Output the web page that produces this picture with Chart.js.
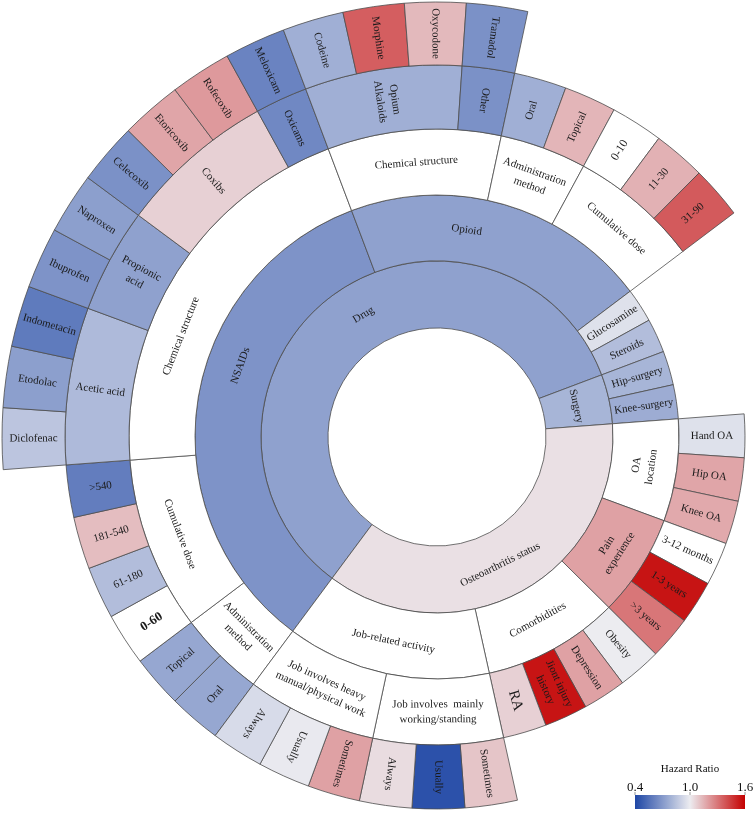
<!DOCTYPE html>
<html>
<head>
<meta charset="utf-8">
<script src="https://cdn.jsdelivr.net/npm/chart.js@4.4.1/dist/chart.umd.min.js"></script>
<style>
  html, body { margin: 0; padding: 0; background: #fff; overflow: hidden; width: 755px; height: 813px; }
  #wrap { position: absolute; left: 0; top: 0; width: 755px; height: 813px; overflow: hidden; }
  #sun { position: absolute; left: 0; top: 0; }
</style>
</head>
<body>
<div id="wrap"><canvas id="sun" width="874" height="874"></canvas></div>
<script>
// ── DATA ─────────────────────────────────────────────────────────────────────
// Each ring is listed clockwise from the Drug / Job-related boundary.
// Spans are in leaf units (every leaf gets the same angle).
// label null = empty gap, hazard ratio null = white (reference / grouping node).
const ring1Labels = ['Drug', 'Surgery', 'Osteoarthritis status'];
const ring1Spans  = [26, 2, 16];
const ring1HR     = [0.73, 0.80, 1.03];

const ring2Labels = ['NSAIDs', 'Opioid', 'Glucosamine', 'Steroids', 'Hip-surgery', 'Knee-surgery',
                     ['OA', 'location'], ['Pain', 'experience'], 'Comorbidities', 'Job-related activity'];
const ring2Spans  = [15, 9, 1, 1, 1, 1, 3, 3, 4, 6];
const ring2HR     = [0.68, 0.73, 0.96, 0.83, 0.80, 0.77, null, 1.19, null, null];

const ring3Labels = [['Administration', 'method'], 'Cumulative dose', 'Chemical structure',
                     'Chemical structure', ['Administration', 'method'], 'Cumulative dose',
                     null,
                     'Hand OA', 'Hip OA', 'Knee OA',
                     '3-12 months', '1-3 years', '>3 years',
                     'Obesity', 'Depression', ['Jiont injury', 'history'], 'RA',
                     ['Job involves  mainly', 'working/standing'], ['Job involves heavy', 'manual/physical work']];
const ring3Spans  = [2, 4, 9, 4, 2, 3, 4, 1, 1, 1, 1, 1, 1, 1, 1, 1, 1, 3, 3];
const ring3HR     = [null, null, null, null, null, null, null,
                     0.96, 1.18, 1.17, null, 1.55, 1.30, 1.00, 1.19, 1.55, 1.07, null, null];

const ring4Labels = ['Oral', 'Topical', '0-60', '61-180', '181-540', '>540',
                     'Acetic acid', ['Propionic', 'acid'], 'Coxibs', 'Oxicams',
                     ['Opium', 'Alkaloids'], 'Other', 'Oral', 'Topical', '0-10', '11-30', '31-90',
                     null,
                     'Sometimes', 'Usually', 'Always', 'Sometimes', 'Usually', 'Always'];
const ring4Spans  = [1, 1, 1, 1, 1, 1, 3, 2, 3, 1, 3, 1, 1, 1, 1, 1, 1, 14, 1, 1, 1, 1, 1, 1];
const ring4HR     = [0.75, 0.75, null, 0.83, 1.12, 0.60, 0.82, 0.73, 1.07, 0.64,
                     0.78, 0.67, 0.78, 1.14, null, 1.15, 1.37, null,
                     1.10, 0.44, 1.04, 1.19, 0.99, 0.94];

const ring5Labels = [null, 'Diclofenac', 'Etodolac', 'Indometacin', 'Ibuprofen', 'Naproxen',
                     'Celecoxib', 'Etoricoxib', 'Rofecoxib', 'Meloxicam',
                     'Codeine', 'Morphine', 'Oxycodone', 'Tramadol', null];
const ring5Spans  = [6, 1, 1, 1, 1, 1, 1, 1, 1, 1, 1, 1, 1, 1, 25];
const ring5HR     = [null, 0.86, 0.72, 0.59, 0.68, 0.72, 0.67, 1.18, 1.21, 0.62,
                     0.78, 1.36, 1.13, 0.67, null];

const legendTicks = [0.4, 1.0, 1.6];

// ── COLOUR SCALE ─────────────────────────────────────────────────────────────
function hrColor(v) {
  if (v === null) return '#ffffff';
  const lo = [30, 70, 165], mid = [236, 236, 240], hi = [196, 0, 0];
  const t = Math.max(-1, Math.min(1, (v - 1) / 0.6));
  const end = t < 0 ? lo : hi, s = Math.abs(t);
  return 'rgb(' + mid.map((m, k) => Math.round(m + (end[k] - m) * s)).join(',') + ')';
}

// ── RINGS → DATASETS ─────────────────────────────────────────────────────────
const rings = [
  { labels: ring1Labels, spans: ring1Spans, hr: ring1HR },
  { labels: ring2Labels, spans: ring2Spans, hr: ring2HR },
  { labels: ring3Labels, spans: ring3Spans, hr: ring3HR },
  { labels: ring4Labels, spans: ring4Spans, hr: ring4HR },
  { labels: ring5Labels, spans: ring5Spans, hr: ring5HR },
];
const ringWeights = [67, 66, 66, 64, 63];

// a node is a leaf when the next ring has nothing inside its span
function leafFlags(k) {
  const r = rings[k], next = rings[k + 1];
  let a = 0;
  return r.spans.map((s, i) => {
    const from = a, to = a + s; a = to;
    if (!next) return true;
    let b = 0;
    return !next.spans.some((ns, j) => {
      const f = b; b += ns;
      return next.labels[j] !== null && f >= from && f < to;
    });
  });
}

const datasets = rings.map((r, k) => ({
  data: r.spans,
  labels: r.labels,
  depth: k + 1,
  leaf: leafFlags(k),
  weight: ringWeights[k],
  backgroundColor: r.labels.map((l, i) => l === null ? 'rgba(0,0,0,0)' : hrColor(r.hr[i])),
  borderColor: r.labels.map(l => l === null ? 'rgba(0,0,0,0)' : '#4d4d4d'),
  borderWidth: r.labels.map(l => l === null ? 0 : 0.8),
})).reverse();   // Chart.js draws dataset 0 outermost

// ── LABEL PLUGIN ─────────────────────────────────────────────────────────────
const FONT = '"Liberation Serif", "Times New Roman", "DejaVu Serif", serif';
const labelShift = { '1:0': 6, '1:2': 2.5, '2:0': 12, '2:1': -8, '3:2': -11 };   // degrees
const labelFont  = { '0-60': 'bold 13px', 'RA': '15px', '0-10': '12px' };

const arcLabels = {
  id: 'arcLabels',
  afterDatasetsDraw(chart) {
    const ctx = chart.ctx;
    chart.data.datasets.forEach((ds, di) => {
      chart.getDatasetMeta(di).data.forEach((arc, i) => {
        const text = ds.labels[i];
        if (!text) return;
        const p = arc.getProps(['x', 'y', 'startAngle', 'endAngle', 'innerRadius', 'outerRadius'], true);
        let deg = ((p.startAngle + p.endAngle) / 2) * 180 / Math.PI + (labelShift[ds.depth + ':' + i] || 0);
        deg = ((deg % 360) + 360) % 360;
        let rot;
        if (ds.leaf[i] || ds.depth >= 4) {
          rot = (deg > 125 && deg < 282) ? deg - 180 : deg;
        } else {
          rot = deg - 90;
          rot = ((rot + 180) % 360 + 360) % 360 - 180;
          if (rot > 90) rot -= 180;
          if (rot <= -90) rot += 180;
        }
        const rMid = (p.innerRadius + p.outerRadius) / 2;
        const a = deg * Math.PI / 180;
        const lines = Array.isArray(text) ? text : [text];
        const key = lines.join(' ');
        ctx.save();
        ctx.translate(p.x + rMid * Math.cos(a), p.y + rMid * Math.sin(a));
        ctx.rotate(rot * Math.PI / 180);
        ctx.font = (labelFont[key] || '11px') + ' ' + FONT;
        ctx.fillStyle = '#1a1a1a';
        ctx.textAlign = 'center';
        ctx.textBaseline = 'middle';
        const lh = 15;
        lines.forEach((ln, j) => ctx.fillText(ln, 0, (j - (lines.length - 1) / 2) * lh));
        ctx.restore();
      });
    });
  },
  afterDraw(chart) {
    // colour bar legend
    const ctx = chart.ctx;
    const x0 = 635, x1 = 745, y0 = 795, y1 = 809;
    const lo = legendTicks[0], hi = legendTicks[legendTicks.length - 1];
    const g = ctx.createLinearGradient(x0, 0, x1, 0);
    for (let k = 0; k <= 24; k++) g.addColorStop(k / 24, hrColor(lo + (hi - lo) * k / 24));
    ctx.save();
    ctx.fillStyle = g;
    ctx.fillRect(x0, y0, x1 - x0, y1 - y0);
    ctx.strokeStyle = '#555';
    ctx.lineWidth = 0.6;
    ctx.fillStyle = '#111';
    ctx.textAlign = 'center';
    ctx.textBaseline = 'alphabetic';
    ctx.font = '13px ' + FONT;
    legendTicks.forEach(t => {
      const x = x0 + (x1 - x0) * (t - lo) / (hi - lo);
      ctx.beginPath(); ctx.moveTo(x, y0); ctx.lineTo(x, y0 - 3); ctx.stroke();
      ctx.fillText(t.toFixed(1), x, 791);
    });
    ctx.font = '11px ' + FONT;
    ctx.fillText('Hazard Ratio', 690, 772);
    ctx.restore();
  }
};

// ── CHART ────────────────────────────────────────────────────────────────────
new Chart(document.getElementById('sun'), {
  type: 'doughnut',
  data: { datasets },
  options: {
    responsive: false,
    animation: false,
    events: [],
    rotation: 216.6,
    radius: 435,
    cutout: '25.06%',
    layout: { padding: 0 },
    plugins: { legend: { display: false }, tooltip: { enabled: false } }
  },
  plugins: [arcLabels]
});
</script>
</body>
</html>
